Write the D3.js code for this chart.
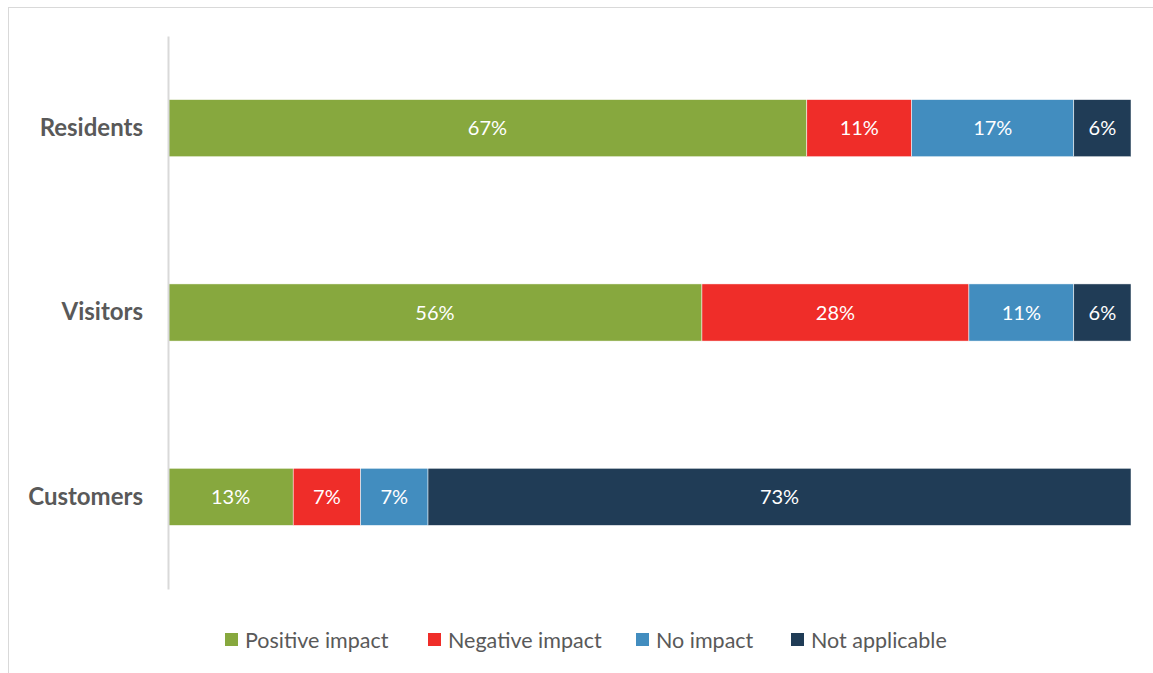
<!DOCTYPE html>
<html>
<head>
<meta charset="utf-8">
<script src="https://cdn.jsdelivr.net/npm/d3@7"></script>
<style>
  body { margin: 0; background: #fff; }
  svg { display: block; font-family: Lato, "Open Sans", sans-serif; }
</style>
</head>
<body>
<div id="chart"></div>
<script>
// Data
const categories = ['Residents', 'Visitors', 'Customers'];
const seriesNames = ['Positive impact', 'Negative impact', 'No impact', 'Not applicable'];
const seriesColors = ['#87a83e', '#ef2d29', '#428dbf', '#203c56'];
const positive = [67, 56, 13];
const negative = [11, 28, 7];
const noImpact = [17, 11, 7];
const notApplicable = [6, 6, 73];

const W = 1153, H = 673;
const svg = d3.select('#chart').append('svg')
    .attr('width', W)
    .attr('height', H);

// outer frame
svg.append('rect')
    .attr('x', 8.5).attr('y', 7.5)
    .attr('width', W).attr('height', H)
    .attr('fill', 'none')
    .attr('stroke', '#d9d9d9')
    .attr('stroke-width', 1);

const table = categories.map((c, i) => ({
    cat: c,
    vals: [positive[i], negative[i], noImpact[i], notApplicable[i]]
}));

const x = d3.scaleLinear().domain([0, 1]).range([168, 1131]);
const y = d3.scaleBand().domain(categories).range([36, 589]).paddingInner(0.69).paddingOuter(0.345);

// stacked segments (normalised to 100%)
table.forEach(row => {
    const total = d3.sum(row.vals);
    let acc = 0;
    const segs = row.vals.map((v, j) => {
        const s = { v, j, x0: acc / total, x1: (acc + v) / total };
        acc += v;
        return s;
    });
    const g = svg.append('g');
    g.selectAll('rect')
        .data(segs)
        .join('rect')
        .attr('x', d => x(d.x0))
        .attr('y', y(row.cat))
        .attr('width', d => x(d.x1) - x(d.x0))
        .attr('height', y.bandwidth())
        .attr('fill', d => seriesColors[d.j])
        .attr('stroke', '#fff')
        .attr('stroke-width', 0.5);
    g.selectAll('text')
        .data(segs)
        .join('text')
        .attr('x', d => (x(d.x0) + x(d.x1)) / 2)
        .attr('y', y(row.cat) + y.bandwidth() / 2)
        .attr('dy', '0.36em')
        .attr('text-anchor', 'middle')
        .attr('font-size', '20px')
        .attr('fill', '#fff')
        .text(d => d.v + '%');
});

// category axis
const yAxis = svg.append('g')
    .attr('transform', 'translate(168,0)')
    .call(d3.axisLeft(y).tickSize(0).tickPadding(25));
yAxis.select('.domain').attr('stroke', '#d9d9d9').attr('stroke-width', 2);
yAxis.selectAll('text')
    .attr('font-family', 'Lato, sans-serif')
    .attr('font-size', '24px')
    .attr('font-weight', 'bold')
    .attr('fill', '#595959');

// legend
const legendX = [225, 428, 636, 791];
const legend = svg.append('g');
seriesNames.forEach((name, i) => {
    legend.append('rect')
        .attr('x', legendX[i]).attr('y', 633)
        .attr('width', 13).attr('height', 13)
        .attr('fill', seriesColors[i]);
    legend.append('text')
        .attr('x', legendX[i] + 20).attr('y', 640)
        .attr('dy', '0.36em')
        .attr('font-size', '21.5px')
        .attr('fill', '#595959')
        .text(name);
});
</script>
</body>
</html>
